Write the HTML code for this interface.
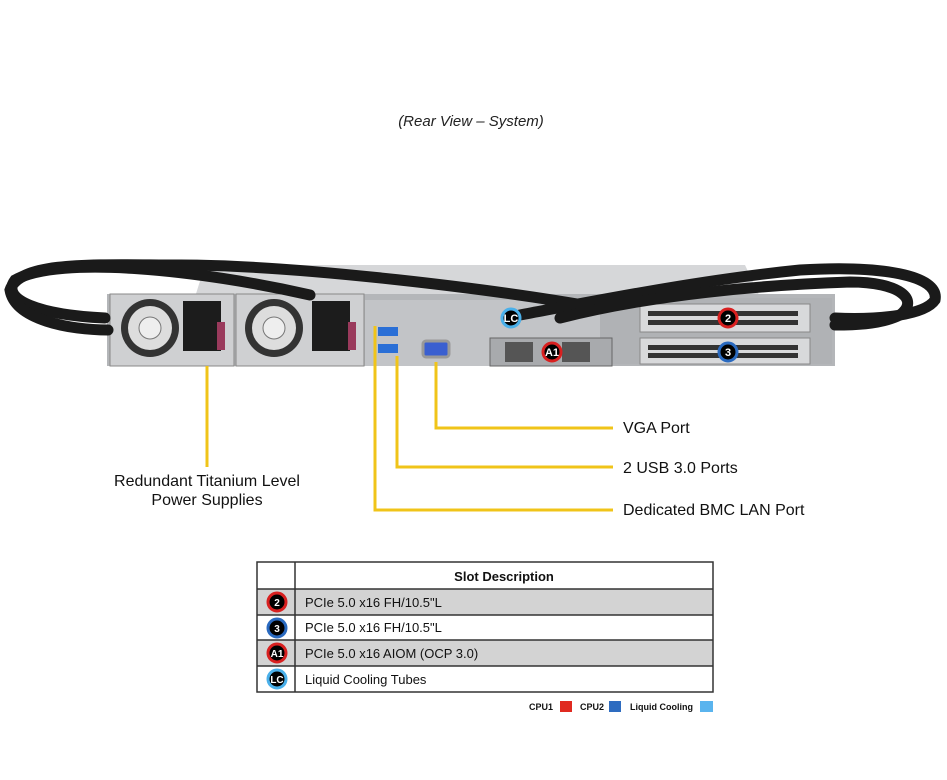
<!DOCTYPE html>
<html><head><style>
body{margin:0;background:#fff;width:947px;height:775px;overflow:hidden;font-family:"Liberation Sans",Arial,sans-serif;}
</style></head><body>
<svg width="947" height="775" xmlns="http://www.w3.org/2000/svg" font-family="Liberation Sans, Arial, sans-serif">
<text x="471" y="126" text-anchor="middle" font-size="15" font-style="italic" fill="#222">(Rear View – System)</text>
<polygon points="205,265 745,265 760,297 195,297" fill="#d6d7d9"/>
<rect x="107" y="294" width="728" height="72" fill="#b4b6b9"/>
<rect x="365" y="300" width="240" height="66" fill="#c2c4c7"/>
<rect x="600" y="298" width="232" height="66" fill="#b0b2b5"/>
<g>
<rect x="110" y="294" width="124" height="72" fill="#cfd0d2" stroke="#888"/>
<circle cx="150" cy="328" r="29" fill="#333"/><circle cx="150" cy="328" r="22" fill="#ddd"/><circle cx="150" cy="328" r="11" fill="#eee" stroke="#777"/>
<rect x="183" y="301" width="38" height="50" fill="#1c1c1c"/><rect x="217" y="322" width="8" height="28" fill="#9a3a5c"/>
<rect x="236" y="294" width="128" height="72" fill="#cfd0d2" stroke="#888"/>
<circle cx="274" cy="328" r="29" fill="#333"/><circle cx="274" cy="328" r="22" fill="#ddd"/><circle cx="274" cy="328" r="11" fill="#eee" stroke="#777"/>
<rect x="312" y="301" width="38" height="50" fill="#1c1c1c"/><rect x="348" y="322" width="8" height="28" fill="#9a3a5c"/>
</g>
<rect x="378" y="327" width="20" height="9" fill="#2a6fd6"/><rect x="378" y="344" width="20" height="9" fill="#2a6fd6"/>
<rect x="423" y="341" width="26" height="16" rx="3" fill="#3a5fd0" stroke="#999" stroke-width="3"/>
<rect x="490" y="338" width="122" height="28" fill="#a8aaad" stroke="#666"/>
<rect x="505" y="342" width="28" height="20" fill="#555"/><rect x="562" y="342" width="28" height="20" fill="#555"/>
<rect x="640" y="304" width="170" height="28" fill="#d8d9db" stroke="#888"/>
<rect x="640" y="338" width="170" height="26" fill="#d8d9db" stroke="#888"/>
<g fill="#333"><rect x="648" y="311" width="150" height="5"/><rect x="648" y="320" width="150" height="5"/><rect x="648" y="345" width="150" height="5"/><rect x="648" y="353" width="150" height="5"/></g>
<g fill="none" stroke="#1a1a1a" stroke-width="11" stroke-linecap="round">
<path d="M310,295 C200,270 60,255 15,280 C0,300 40,315 105,318"/>
<path d="M600,308 C500,290 300,265 180,265 C100,265 20,260 10,290 C15,320 70,330 108,330"/>
<path d="M520,315 C600,300 700,280 800,270 C880,265 940,275 935,300 C925,315 880,320 835,318"/>
<path d="M560,318 C650,295 760,285 850,282 C900,282 920,300 900,315 C880,325 850,325 835,325"/>
</g>
<g font-weight="bold" font-size="11" text-anchor="middle" fill="#fff">
<circle cx="511" cy="318" r="9" fill="#000" stroke="#4ab0ea" stroke-width="3"/><text x="511" y="322">LC</text>
<circle cx="728" cy="318" r="9" fill="#000" stroke="#d82020" stroke-width="3"/><text x="728" y="322">2</text>
<circle cx="552" cy="352" r="9" fill="#000" stroke="#d82020" stroke-width="3"/><text x="552" y="356">A1</text>
<circle cx="728" cy="352" r="9" fill="#000" stroke="#2a6ac0" stroke-width="3"/><text x="728" y="356">3</text>
</g>
<g stroke="#f0c419" stroke-width="3" fill="none">
<path d="M207,366 V467"/>
<path d="M375,326 V510 H613"/>
<path d="M397,356 V467 H613"/>
<path d="M436,362 V428 H613"/>
</g>
<g font-size="16" fill="#111">
<text x="623" y="433">VGA Port</text>
<text x="623" y="473">2 USB 3.0 Ports</text>
<text x="623" y="515">Dedicated BMC LAN Port</text>
<text x="207" y="486" text-anchor="middle">Redundant Titanium Level</text>
<text x="207" y="505" text-anchor="middle">Power Supplies</text>
</g>
<rect x="257" y="589" width="456" height="26" fill="#d3d3d3"/>
<rect x="257" y="640" width="456" height="26" fill="#d3d3d3"/>
<g stroke="#333" stroke-width="1.5" fill="none">
<rect x="257" y="562" width="456" height="130"/>
<line x1="295" y1="562" x2="295" y2="692"/>
<line x1="257" y1="589" x2="713" y2="589"/>
<line x1="257" y1="615" x2="713" y2="615"/>
<line x1="257" y1="640" x2="713" y2="640"/>
<line x1="257" y1="666" x2="713" y2="666"/>
</g>
<text x="504" y="581" text-anchor="middle" font-size="13" font-weight="bold" fill="#111">Slot Description</text>
<g font-size="13" fill="#111">
<text x="305" y="607">PCIe 5.0 x16 FH/10.5"L</text>
<text x="305" y="632">PCIe 5.0 x16 FH/10.5"L</text>
<text x="305" y="658">PCIe 5.0 x16 AIOM (OCP 3.0)</text>
<text x="305" y="684">Liquid Cooling Tubes</text>
</g>
<g font-weight="bold" font-size="10" text-anchor="middle" fill="#fff">
<circle cx="277" cy="602" r="9" fill="#000" stroke="#d82020" stroke-width="3"/><text x="277" y="606">2</text>
<circle cx="277" cy="628" r="9" fill="#000" stroke="#2a6ac0" stroke-width="3"/><text x="277" y="632">3</text>
<circle cx="277" cy="653" r="9" fill="#000" stroke="#d82020" stroke-width="3"/><text x="277" y="657">A1</text>
<circle cx="277" cy="679" r="9" fill="#000" stroke="#4ab0ea" stroke-width="3"/><text x="277" y="683">LC</text>
</g>
<g font-size="9" font-weight="bold" fill="#111">
<text x="529" y="710">CPU1</text><rect x="560" y="701" width="12" height="11" fill="#e02a20"/>
<text x="580" y="710">CPU2</text><rect x="609" y="701" width="12" height="11" fill="#2e6cc0"/>
<text x="630" y="710">Liquid Cooling</text><rect x="700" y="701" width="13" height="11" fill="#5ab4ee"/>
</g>
</svg>
</body></html>
